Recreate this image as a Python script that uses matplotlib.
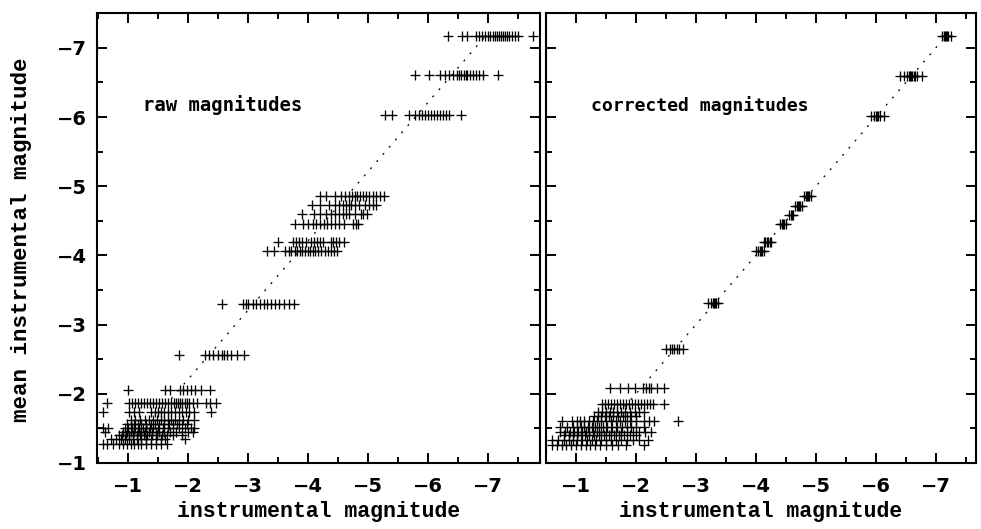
import numpy as np
import matplotlib
matplotlib.use("Agg")
import matplotlib.pyplot as plt

# mean instrumental magnitude of each star, and its individual measurements
raw_mean = [-7.17, -6.61, -6.03, -4.86, -4.73, -4.60, -4.46, -4.20, -4.07,
            -3.30, -2.56, -2.05, -1.87, -1.73, -1.62, -1.56, -1.50, -1.45,
            -1.40, -1.34, -1.27]
raw_obs = [
    [-6.34, -6.57, -6.65, -6.80, -6.85, -6.90, -6.95, -7.00, -7.04, -7.08, -7.12,
     -7.15, -7.18, -7.22, -7.25, -7.28, -7.32, -7.36, -7.40, -7.45, -7.50, -7.75],
    [-5.79, -6.02, -6.20, -6.28, -6.35, -6.42, -6.48, -6.52, -6.56, -6.60, -6.63,
     -6.66, -6.70, -6.75, -6.80, -6.85, -6.92, -7.17],
    [-5.28, -5.40, -5.68, -5.78, -5.85, -5.90, -5.95, -6.00, -6.05, -6.10, -6.15,
     -6.20, -6.25, -6.30, -6.35, -6.55],
    [-4.20, -4.30, -4.45, -4.55, -4.62, -4.68, -4.73, -4.78, -4.82, -4.87, -4.92,
     -4.97, -5.02, -5.08, -5.13, -5.20, -5.27],
    [-4.07, -4.20, -4.35, -4.45, -4.52, -4.58, -4.63, -4.68, -4.72, -4.78, -4.85,
     -4.95, -5.02, -5.08, -5.13],
    [-3.90, -4.10, -4.20, -4.30, -4.38, -4.45, -4.52, -4.58, -4.63, -4.68, -4.78,
     -4.88, -4.92, -4.98],
    [-3.78, -3.92, -4.00, -4.08, -4.13, -4.20, -4.27, -4.32, -4.38, -4.45, -4.52,
     -4.60, -4.75, -4.80, -4.84],
    [-3.50, -3.75, -3.80, -3.85, -3.90, -3.97, -4.05, -4.10, -4.15, -4.20, -4.25,
     -4.38, -4.42, -4.47, -4.52, -4.60],
    [-3.32, -3.44, -3.62, -3.68, -3.72, -3.78, -3.82, -3.86, -3.90, -3.95, -4.00,
     -4.04, -4.08, -4.12, -4.16, -4.22, -4.28, -4.33, -4.38, -4.43, -4.48],
    [-2.57, -2.92, -2.96, -3.00, -3.08, -3.14, -3.20, -3.26, -3.32, -3.38, -3.45,
     -3.52, -3.60, -3.68, -3.76],
    [-1.84, -2.28, -2.35, -2.42, -2.50, -2.56, -2.60, -2.65, -2.72, -2.82, -2.93],
    [-1.00, -1.61, -1.70, -1.86, -1.92, -1.98, -2.04, -2.12, -2.22, -2.36],
    [-0.64, -1.02, -1.07, -1.12, -1.17, -1.22, -1.27, -1.32, -1.37, -1.42, -1.47,
     -1.52, -1.57, -1.62, -1.67, -1.72, -1.77, -1.80, -1.83, -1.86, -1.90, -1.94,
     -1.98, -2.02, -2.08, -2.14, -2.30, -2.37, -2.47],
    [-0.58, -1.02, -1.10, -1.18, -1.38, -1.45, -1.50, -1.55, -1.60, -1.66, -1.72,
     -1.78, -1.84, -1.90, -1.96, -2.02, -2.10, -2.39],
    [-1.05, -1.12, -1.20, -1.28, -1.35, -1.42, -1.48, -1.55, -1.60, -1.66, -1.72,
     -1.78, -1.85, -1.92, -2.00, -2.10],
    [-0.98, -1.04, -1.10, -1.16, -1.22, -1.30, -1.38, -1.45, -1.52, -1.60, -1.68,
     -1.75, -1.82, -1.90, -1.98],
    [-0.58, -0.66, -0.95, -1.00, -1.06, -1.12, -1.18, -1.24, -1.30, -1.36, -1.42,
     -1.50, -1.58, -1.66, -1.75, -1.85, -1.95, -2.05, -2.10],
    [-0.62, -0.92, -0.98, -1.04, -1.10, -1.16, -1.22, -1.28, -1.34, -1.40, -1.46,
     -1.52, -1.60, -1.70, -1.80, -1.90, -2.00, -2.08],
    [-0.85, -0.90, -0.96, -1.02, -1.08, -1.14, -1.20, -1.26, -1.32, -1.40, -1.48,
     -1.56, -1.65, -1.75, -1.90],
    [-0.72, -0.80, -0.88, -0.95, -1.02, -1.08, -1.15, -1.22, -1.30, -1.38, -1.46,
     -1.55, -1.62, -1.95],
    [-0.58, -0.65, -0.75, -0.85, -0.92, -0.98, -1.04, -1.10, -1.16, -1.22, -1.30,
     -1.38, -1.46, -1.55, -1.64],
]

corr_mean = [-7.17, -6.59, -6.01, -4.86, -4.72, -4.59, -4.46, -4.20, -4.07,
             -3.31, -2.65, -2.08, -1.85, -1.74, -1.68, -1.60, -1.52, -1.45,
             -1.40, -1.33, -1.26]
corr_obs = [
    [-7.10, -7.13, -7.15, -7.17, -7.19, -7.21, -7.26],
    [-6.40, -6.47, -6.52, -6.55, -6.57, -6.59, -6.61, -6.63, -6.65, -6.68, -6.77],
    [-5.92, -5.97, -6.00, -6.02, -6.04, -6.07, -6.14],
    [-4.80, -4.83, -4.85, -4.87, -4.89, -4.92],
    [-4.65, -4.68, -4.70, -4.72, -4.74, -4.77],
    [-4.55, -4.58, -4.60, -4.62],
    [-4.40, -4.43, -4.45, -4.47, -4.50],
    [-4.13, -4.16, -4.19, -4.21, -4.23, -4.26],
    [-4.00, -4.03, -4.06, -4.08, -4.10, -4.13],
    [-3.20, -3.25, -3.28, -3.30, -3.32, -3.34, -3.37],
    [-2.50, -2.56, -2.60, -2.64, -2.68, -2.72, -2.78],
    [-1.57, -1.73, -1.86, -1.98, -2.12, -2.17, -2.21, -2.25, -2.35, -2.47],
    [-1.43, -1.48, -1.53, -1.58, -1.63, -1.68, -1.73, -1.78, -1.83, -1.88, -1.93,
     -1.98, -2.03, -2.08, -2.13, -2.18, -2.23, -2.29, -2.46],
    [-1.37, -1.43, -1.50, -1.56, -1.62, -1.68, -1.75, -1.82, -1.90, -1.98, -2.05,
     -2.14],
    [-1.30, -1.36, -1.42, -1.48, -1.55, -1.62, -1.70, -1.78, -1.85, -1.92, -2.00],
    [-0.76, -0.93, -1.01, -1.07, -1.14, -1.21, -1.28, -1.35, -1.42, -1.50, -1.58,
     -1.66, -1.74, -1.82, -1.90, -2.00, -2.14, -2.22, -2.30, -2.70],
    [-0.73, -0.85, -0.95, -1.02, -1.08, -1.14, -1.20, -1.26, -1.32, -1.38, -1.45,
     -1.52, -1.60, -1.68, -1.76, -1.85, -1.92, -2.00, -2.14],
    [-0.73, -0.82, -0.90, -0.97, -1.04, -1.10, -1.16, -1.22, -1.28, -1.35, -1.42,
     -1.50, -1.58, -1.66, -1.75, -1.85, -1.95, -2.05, -2.15, -2.25],
    [-0.80, -0.88, -0.95, -1.02, -1.08, -1.15, -1.22, -1.30, -1.38, -1.46, -1.55,
     -1.64, -1.72, -1.80, -1.90, -2.00],
    [-0.60, -0.70, -0.80, -0.88, -0.95, -1.02, -1.10, -1.18, -1.26, -1.34, -1.42,
     -1.50, -1.58, -1.66, -1.75, -1.85, -1.95, -2.05, -2.20],
    [-0.60, -0.68, -0.76, -0.84, -0.92, -1.00, -1.08, -1.16, -1.24, -1.32, -1.40,
     -1.50, -1.60, -1.70, -1.84, -2.14],
]

# dotted reference lines (start/end in x, zero-point offset)
raw_line_x = [-1.2, -6.95]
raw_offset = -0.21
corr_line_x = [-1.5, -7.15]

panel_labels = ["raw magnitudes", "corrected magnitudes"]


def draw_panel(ax, means, obs, line_x, offset, label, xlim, fs):
    for m, xs in zip(means, obs):
        ax.plot(xs, [m] * len(xs), ls="none", marker="+", ms=7, mew=0.95,
                color="black")
    lx = np.array(line_x)
    ax.plot(lx, lx + offset, color="black", lw=0.9, dashes=(1.6, 6.0))
    ax.set_xlim(xlim)
    ax.set_ylim(-1, -7.5)
    ax.set_xticks(np.arange(-1, -7.5, -1))
    ax.set_xticks(np.arange(-0.5, -8.0, -0.5), minor=True)
    ax.set_yticks(np.arange(-1, -7.5, -1))
    ax.set_yticks(np.arange(-1.5, -7.6, -0.5), minor=True)
    ax.tick_params(which="both", direction="in", top=True, right=True, width=1.4)
    ax.tick_params(which="major", length=7)
    ax.tick_params(which="minor", length=4.5)
    ax.tick_params(axis="x", pad=10)
    ax.tick_params(axis="y", pad=7)
    for s in ax.spines.values():
        s.set_linewidth(1.5)
    ax.text(0.104, 0.796, label, transform=ax.transAxes, va="center", ha="left",
            family="DejaVu Sans Mono", weight="bold", fontsize=fs)


fig = plt.figure(figsize=(9.81, 5.29), dpi=100)
plt.rcParams["axes.unicode_minus"] = True
ax1 = fig.add_axes([97 / 981, 66 / 529, 443 / 981, 449.7 / 529])
ax2 = fig.add_axes([546 / 981, 66 / 529, 430 / 981, 449.7 / 529])

draw_panel(ax1, raw_mean, raw_obs, raw_line_x, raw_offset, panel_labels[0],
           (-0.48, -7.87), 13.6)
draw_panel(ax2, corr_mean, corr_obs, corr_line_x, 0.0, panel_labels[1],
           (-0.5, -7.67), 13.1)
ax2.set_yticklabels([])

for ax in (ax1, ax2):
    for t in ax.get_xticklabels() + ax.get_yticklabels():
        t.set_fontweight("bold")
        t.set_fontsize(14)
        t.set_family("DejaVu Sans")

lab = dict(family="Liberation Mono", weight="bold", fontsize=15.5)
fig.text((97 + 540) / 2 / 981, 1 - 512 / 529, "instrumental magnitude",
         ha="center", va="center", **lab)
fig.text((546 + 976) / 2 / 981, 1 - 512 / 529, "instrumental magnitude",
         ha="center", va="center", **lab)
lab["fontsize"] = 16.2
fig.text(22 / 981, 1 - 240 / 529, "mean instrumental magnitude",
         rotation=90, ha="center", va="center", **lab)

fig.savefig("out.png", dpi=100)
